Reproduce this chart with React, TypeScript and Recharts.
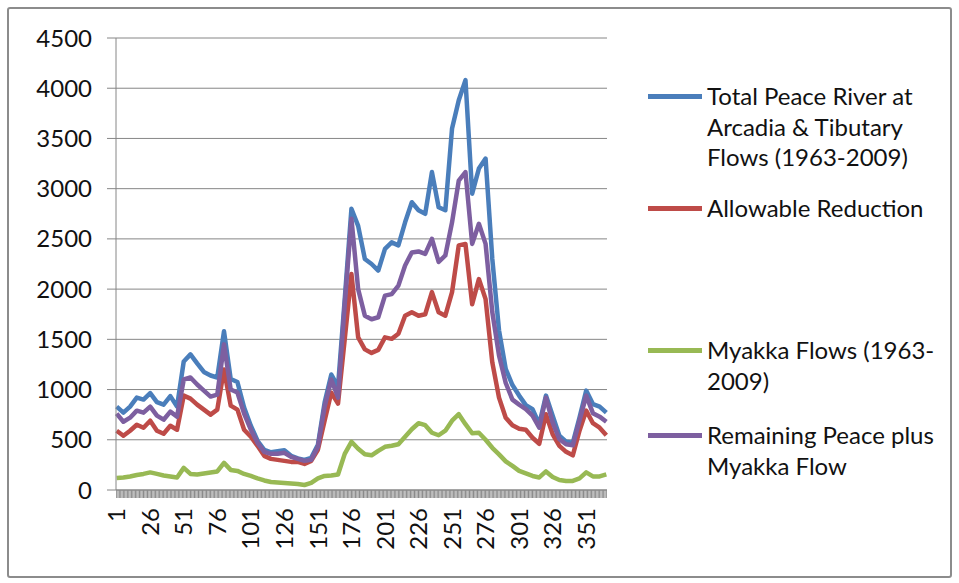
import { LineChart, Line, XAxis, YAxis, CartesianGrid, Legend } from 'recharts'

// day of year, sampled every 5 days
const days = [
  1, 6, 11, 16, 21, 26, 31, 36, 41, 46,
  51, 56, 61, 66, 71, 76, 81, 86, 91, 96,
  101, 106, 111, 116, 121, 126, 131, 136, 141, 146,
  151, 156, 161, 166, 171, 176, 181, 186, 191, 196,
  201, 206, 211, 216, 221, 226, 231, 236, 241, 246,
  251, 256, 261, 266, 271, 276, 281, 286, 291, 296,
  301, 306, 311, 316, 321, 326, 331, 336, 341, 346,
  351, 356, 361, 366,
]

const totalPeace = [
  830, 770, 830, 920, 900, 965, 875, 850, 935, 830,
  1280, 1350, 1260, 1175, 1140, 1120, 1580, 1105, 1075, 820,
  640, 490, 400, 375, 385, 395, 340, 315, 300, 320,
  450, 870, 1150, 1030, 1900, 2800, 2630, 2300, 2250, 2185,
  2400, 2465, 2435, 2665, 2865, 2785, 2750, 3165, 2815, 2785,
  3600, 3880, 4080, 2950, 3200, 3300, 2300, 1590, 1205, 1045,
  940, 845, 805, 655, 940, 740, 540, 480, 470, 720,
  990, 855, 830, 770,
]

const allowableReduction = [
  590, 540, 590, 650, 620, 690, 590, 560, 640, 600,
  940, 910, 850, 800, 750, 800, 1200, 840, 800, 600,
  530, 440, 340, 310, 300, 290, 280, 280, 260, 290,
  400, 690, 970, 860, 1500, 2150, 1520, 1400, 1365, 1395,
  1520, 1505, 1555, 1735, 1770, 1735, 1750, 1970, 1770, 1735,
  1970, 2435, 2450, 1850, 2100, 1900, 1270, 920, 720, 645,
  610, 600, 520, 460, 755, 555, 440, 380, 345, 590,
  790, 665, 620, 545,
]

const myakkaFlows = [
  120, 125, 135, 150, 160, 175, 160, 145, 135, 125,
  220, 160, 155, 165, 175, 185, 270, 200, 190, 160,
  140, 115, 95, 80, 75, 70, 65, 60, 50, 70,
  115, 140, 145, 155, 360, 480, 410, 355, 345, 390,
  430, 440, 455, 530, 605, 665, 645, 570, 545, 590,
  690, 755, 655, 565, 570, 500, 420, 355, 285, 240,
  190, 165, 140, 125, 185, 130, 100, 90, 90, 115,
  175, 135, 135, 155,
]

const remainingPeace = [
  760, 680, 720, 790, 770, 830, 740, 700, 780, 730,
  1100, 1120, 1050, 990, 930, 950, 1450, 1000, 970, 760,
  600, 470, 380, 360, 360, 370, 330, 310, 290, 300,
  430, 830, 1100, 920, 1850, 2700, 2000, 1735, 1700, 1720,
  1935, 1950, 2035, 2235, 2365, 2375, 2350, 2500, 2270, 2335,
  2665, 3080, 3165, 2450, 2650, 2450, 1770, 1340, 1065, 900,
  850, 805, 740, 620, 920, 670, 505, 455, 445, 690,
  940, 765, 730, 680,
]

const yTicks = [0, 500, 1000, 1500, 2000, 2500, 3000, 3500, 4000, 4500]
const xTickLabels = [1, 26, 51, 76, 101, 126, 151, 176, 201, 226, 251, 276, 301, 326, 351]

const data = days.map((day, i) => ({
  day,
  total: totalPeace[i],
  allowable: allowableReduction[i],
  myakka: myakkaFlows[i],
  remaining: remainingPeace[i],
}))

// one tick mark per day, like the category axis of the original
const dayMarks = Array.from({ length: 366 }, (_, i) => i + 1)

const FONT = 'Lato, "Liberation Sans", sans-serif'

const SERIES = [
  { key: 'total', name: 'Total Peace River at Arcadia & Tibutary Flows (1963-2009)', color: '#4A7EBB' },
  { key: 'allowable', name: 'Allowable Reduction', color: '#BE4B48' },
  { key: 'myakka', name: 'Myakka Flows (1963-2009)', color: '#98B954' },
  { key: 'remaining', name: 'Remaining Peace plus Myakka Flow', color: '#7D5FA0' },
]

const LEGEND_ROWS = [
  { key: 'total', lines: ['Total Peace River at', 'Arcadia & Tibutary', 'Flows (1963-2009)'], top: 81 },
  { key: 'allowable', lines: ['Allowable Reduction'], top: 193 },
  { key: 'myakka', lines: ['Myakka Flows (1963-', '2009)'], top: 335 },
  { key: 'remaining', lines: ['Remaining Peace plus', 'Myakka Flow'], top: 420 },
]

function XTick({ x, y, payload }: any) {
  if (!xTickLabels.includes(payload.value)) return <g />
  const ty = y + 8
  return (
    <text
      x={x}
      y={ty}
      transform={`rotate(-90 ${x} ${ty})`}
      textAnchor="end"
      dy="0.36em"
      fontSize={24}
      fontFamily={FONT}
      fill="#111"
    >
      {payload.value}
    </text>
  )
}

function LegendBox() {
  return (
    <div style={{ position: 'relative', width: 340, height: 540, fontFamily: FONT }}>
      {LEGEND_ROWS.map((row) => {
        const s = SERIES.find((x) => x.key === row.key)!
        return (
          <div key={row.key} style={{ position: 'absolute', left: 41, top: row.top }}>
            <div
              style={{
                position: 'absolute',
                left: 0,
                top: 13,
                width: 54,
                height: 5,
                background: s.color,
              }}
            />
            <div
              style={{
                position: 'absolute',
                left: 59,
                top: 0,
                whiteSpace: 'nowrap',
                fontSize: 24,
                lineHeight: '30.5px',
                color: '#111',
              }}
            >
              {row.lines.map((l) => (
                <div key={l}>{l}</div>
              ))}
            </div>
          </div>
        )
      })}
    </div>
  )
}

export default function App() {
  return (
    <div style={{ position: 'absolute', left: 0, top: 0, width: 959, height: 583, background: '#fff' }}>
      <div
        style={{
          position: 'absolute',
          left: 7,
          top: 7,
          width: 945,
          height: 571,
          border: '2px solid #8c8c8c',
          borderRadius: 3,
          boxSizing: 'border-box',
        }}
      />
      <div style={{ position: 'absolute', left: 0, top: 0 }}>
        <LineChart width={959} height={583} data={data} margin={{ top: 38, right: 12, bottom: 0, left: 0 }}>
          <CartesianGrid vertical={false} stroke="#868686" />
          <XAxis
            dataKey="day"
            type="number"
            domain={[0.5, 366.5]}
            ticks={dayMarks}
            interval={0}
            height={93}
            tickSize={8}
            axisLine={{ stroke: '#868686' }}
            tickLine={{ stroke: '#8a8a8a' }}
            tick={<XTick />}
          />
          <YAxis
            domain={[0, 4500]}
            ticks={yTicks}
            interval={0}
            width={116}
            tickSize={9}
            tickMargin={15}
            axisLine={{ stroke: '#868686' }}
            tickLine={{ stroke: '#868686' }}
            tick={{ fontSize: 24, fontFamily: FONT, fill: '#111' }}
          />
          <Legend
            layout="vertical"
            align="right"
            verticalAlign="top"
            wrapperStyle={{ top: 0, width: 340 }}
            content={() => <LegendBox />}
          />
          {SERIES.map((s) => (
            <Line
              key={s.key}
              type="linear"
              dataKey={s.key}
              name={s.name}
              stroke={s.color}
              strokeWidth={4.5}
              strokeLinejoin="round"
              dot={false}
              activeDot={false}
              isAnimationActive={false}
            />
          ))}
        </LineChart>
      </div>
    </div>
  )
}
